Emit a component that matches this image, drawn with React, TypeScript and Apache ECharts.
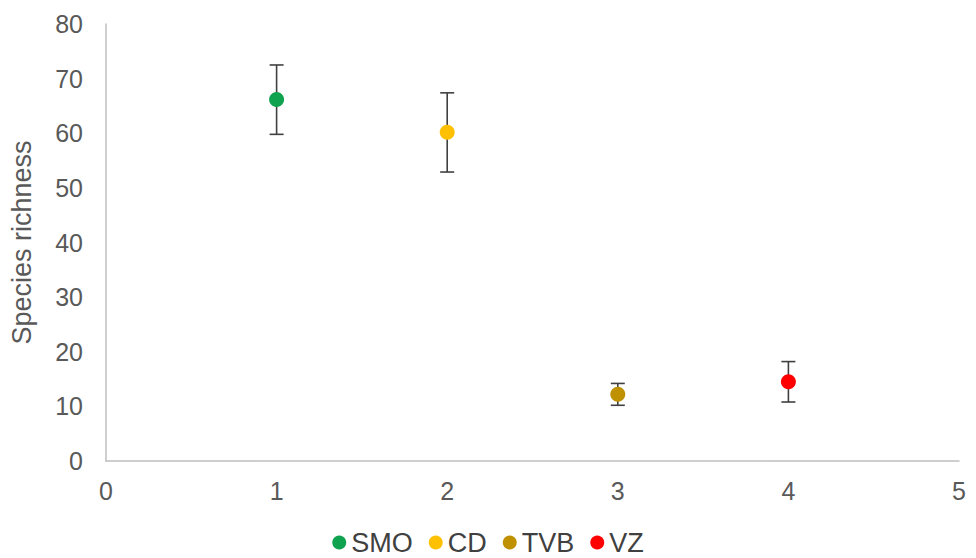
import React, { useEffect, useRef } from "react";
import * as echarts from "echarts";

const seriesNames = ["SMO", "CD", "TVB", "VZ"];
const seriesColors = ["#0fa24f", "#ffc000", "#bf9000", "#ff0000"];
const xValues = [1, 2, 3, 4];
const meanValues = [66.2, 60.2, 12.2, 14.5];
const lowValues = [59.8, 52.9, 10.2, 10.8];
const highValues = [72.5, 67.4, 14.2, 18.2];

export default function App() {
  const ref = useRef<HTMLDivElement>(null);
  useEffect(() => {
    const chart = echarts.init(ref.current!, null, { renderer: "svg" });
    const font = "Liberation Sans, Arial, sans-serif";
    const errData = xValues.map((x, i) => [x, lowValues[i], highValues[i]]);
    const option: any = {
      animation: false,
      backgroundColor: "#ffffff",
      grid: { left: 106, right: 17, top: 24, bottom: 97, containLabel: false },
      legend: {
        data: seriesNames,
        top: 524,
        left: "center",
        itemWidth: 14,
        itemHeight: 14,
        itemGap: 16,
        icon: "circle",
        textStyle: { fontFamily: font, fontSize: 27, color: "#404040" },
      },
      xAxis: {
        type: "value",
        min: 0,
        max: 5,
        interval: 1,
        axisLine: { show: true, lineStyle: { color: "#bfbfbf", width: 1.5 } },
        axisTick: { show: false },
        splitLine: { show: false },
        axisLabel: { fontFamily: font, fontSize: 25, color: "#595959", margin: 17 },
      },
      yAxis: {
        type: "value",
        min: 0,
        max: 80,
        interval: 10,
        name: "Species richness",
        nameLocation: "middle",
        nameGap: 71,
        nameTextStyle: { fontFamily: font, fontSize: 27, color: "#595959" },
        axisLine: { show: true, lineStyle: { color: "#bfbfbf", width: 1.5 } },
        axisTick: { show: false },
        splitLine: { show: false },
        axisLabel: { fontFamily: font, fontSize: 25, color: "#595959", margin: 23 },
      },
      series: [
        {
          type: "custom",
          name: "errors",
          z: 1,
          data: errData,
          encode: { x: 0, y: [1, 2] },
          renderItem: (params: any, api: any) => {
            const x = api.value(0);
            const lo = api.coord([x, api.value(1)]);
            const hi = api.coord([x, api.value(2)]);
            const hw = 7;
            const style = { stroke: "#404040", lineWidth: 1.6 };
            return {
              type: "group",
              children: [
                { type: "line", shape: { x1: lo[0], y1: lo[1], x2: hi[0], y2: hi[1] }, style },
                { type: "line", shape: { x1: hi[0] - hw, y1: hi[1], x2: hi[0] + hw, y2: hi[1] }, style },
                { type: "line", shape: { x1: lo[0] - hw, y1: lo[1], x2: lo[0] + hw, y2: lo[1] }, style },
              ],
            };
          },
        },
        ...seriesNames.map((name, i) => ({
          type: "scatter",
          name,
          z: 3,
          symbol: "circle",
          symbolSize: 15,
          itemStyle: { color: seriesColors[i], opacity: 1 },
          data: [[xValues[i], meanValues[i]]],
        })),
      ],
    };
    chart.setOption(option);
    return () => chart.dispose();
  }, []);
  return <div ref={ref} style={{ width: 976, height: 558, position: "absolute", left: 0, top: 0 }} />;
}
